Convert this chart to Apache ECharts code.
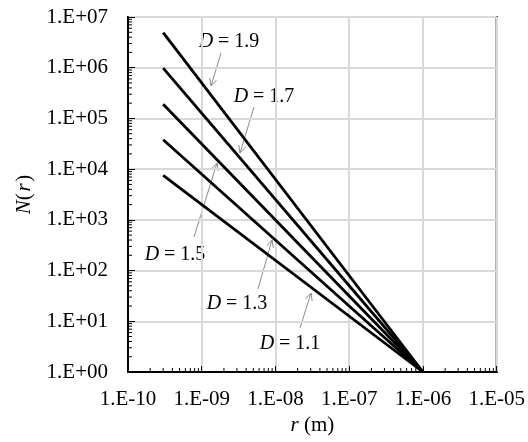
<!DOCTYPE html>
<html>
<head>
<meta charset="utf-8">
<script src="https://cdn.jsdelivr.net/npm/echarts@6/dist/echarts.min.js"></script>
<style>
  html, body { margin: 0; padding: 0; background: #fff; }
  #main { width: 528px; height: 442px; }
</style>
</head>
<body>
<div id="main"></div>
<script>
// fractal dimension of each line
const dims = ['1.9', '1.7', '1.5', '1.3', '1.1'];
// r at start / end of every line (m)
const rStart = 3e-10;
const rEnd = 1e-6;
// N(r) read at the start of each line, all lines end at N = 1
const nStart = [4.9e6, 9.8e5, 1.9e5, 3.8e4, 7.5e3];
const nEnd = 1;

// decades on each axis (for the minor ticks)
const xDecades = [1e-10, 1e-9, 1e-8, 1e-7, 1e-6];
const yDecades = [1, 10, 100, 1e3, 1e4, 1e5, 1e6];
const minorMult = [2, 3, 4, 5, 6, 7, 8, 9];

// annotation layout: label, text centre, arrow from -> to (px)
const notes = [
  ['1.9', 229, 42, 221, 53, 211, 86],
  ['1.7', 264, 97, 254, 107, 240, 153],
  ['1.5', 175, 255, 194, 237, 217, 163],
  ['1.3', 237, 304, 258, 289, 272, 240],
  ['1.1', 290, 344, 300, 328, 311, 293]
];

const FONT = 'Liberation Serif';
const FS = 21;   // tick labels, axis names
const FN = 20;   // annotations

function sci(v) {
  const e = Math.round(Math.log10(v));
  const a = Math.abs(e);
  return '1.E' + (e < 0 ? '-' : '+') + (a < 10 ? '0' + a : a);
}

const minorData = [];
xDecades.forEach(function (d) {
  minorMult.forEach(function (m) { minorData.push([d * m, 1, 0]); });
});
yDecades.forEach(function (d) {
  minorMult.forEach(function (m) { minorData.push([1e-10, d * m, 1]); });
});

const lineSeries = dims.map(function (d, i) {
  return {
    name: 'D = ' + d,
    type: 'line',
    data: [[rStart, nStart[i]], [rEnd, nEnd]],
    showSymbol: false,
    symbol: 'none',
    lineStyle: { color: '#000', width: 2.8 },
    z: 3
  };
});

const graphics = [];
notes.forEach(function (n) {
  const x1 = n[3], y1 = n[4], x2 = n[5], y2 = n[6];
  const len = Math.hypot(x2 - x1, y2 - y1);
  const ux = (x2 - x1) / len, uy = (y2 - y1) / len;
  const h = 8, a = 0.45;
  const c = Math.cos(a), s = Math.sin(a);
  const p1 = [x2 - h * (ux * c - uy * s), y2 - h * (uy * c + ux * s)];
  const p2 = [x2 - h * (ux * c + uy * s), y2 - h * (uy * c - ux * s)];
  graphics.push({
    type: 'line',
    shape: { x1: x1, y1: y1, x2: x2, y2: y2 },
    style: { stroke: '#8c8c8c', lineWidth: 1 }
  });
  graphics.push({
    type: 'polyline',
    shape: { points: [p1, [x2, y2], p2] },
    style: { stroke: '#8c8c8c', lineWidth: 1, fill: null }
  });
  graphics.push({
    type: 'text',
    x: n[1],
    y: n[2],
    style: {
      text: '{i|D} = ' + n[0],
      fontFamily: FONT,
      fontSize: FN,
      fill: '#000',
      align: 'center',
      verticalAlign: 'middle',
      rich: { i: { fontStyle: 'italic', fontFamily: FONT, fontSize: FN } }
    }
  });
});

const italic = { fontStyle: 'italic', fontFamily: FONT, fontSize: FS };

const option = {
  animation: false,
  backgroundColor: '#fff',
  textStyle: { fontFamily: FONT },
  grid: {
    left: 128, right: 30, top: 17, bottom: 70,
    show: true, borderColor: '#000', borderWidth: 2,
    backgroundColor: 'transparent'
  },
  xAxis: {
    type: 'log',
    logBase: 10,
    min: 1e-10,
    max: 1e-5,
    name: '{i|r} (m)',
    nameLocation: 'middle',
    nameGap: 36,
    nameTextStyle: {
      fontFamily: FONT, fontSize: FS, color: '#000',
      rich: { i: italic }
    },
    axisLine: { lineStyle: { color: '#000', width: 2 } },
    axisTick: { inside: true, length: 6, lineStyle: { color: '#000', width: 1 } },
    axisLabel: { margin: 17, fontFamily: FONT, fontSize: FS, color: '#000', formatter: sci },
    splitLine: { show: true, lineStyle: { color: '#d9d9d9', width: 2 } }
  },
  yAxis: {
    type: 'log',
    logBase: 10,
    min: 1,
    max: 1e7,
    name: '{i|N}(\u200a{i|r}\u200a)',
    nameLocation: 'middle',
    nameGap: 93,
    nameTextStyle: {
      fontFamily: FONT, fontSize: FS, color: '#000',
      rich: { i: italic }
    },
    axisLine: { lineStyle: { color: '#000', width: 2 } },
    axisTick: { inside: true, length: 7, lineStyle: { color: '#000', width: 1 } },
    axisLabel: { margin: 20, fontFamily: FONT, fontSize: FS, color: '#000', formatter: sci },
    splitLine: { show: true, lineStyle: { color: '#d9d9d9', width: 2 } }
  },
  series: lineSeries.concat([{
    type: 'custom',
    data: minorData,
    encode: { x: 0, y: 1 },
    silent: true,
    clip: false,
    z: 4,
    renderItem: function (params, api) {
      const p = api.coord([api.value(0), api.value(1)]);
      const horiz = api.value(2) === 1;
      return {
        type: 'line',
        shape: horiz
          ? { x1: p[0], y1: p[1], x2: p[0] + 4, y2: p[1] }
          : { x1: p[0], y1: p[1], x2: p[0], y2: p[1] - 4 },
        style: { stroke: '#000', lineWidth: 1 }
      };
    }
  }]),
  graphic: graphics
};

const myChart = echarts.init(document.getElementById('main'));
myChart.setOption(option);
window.addEventListener('resize', function () {
  myChart.resize();
});
</script>
</body>
</html>
